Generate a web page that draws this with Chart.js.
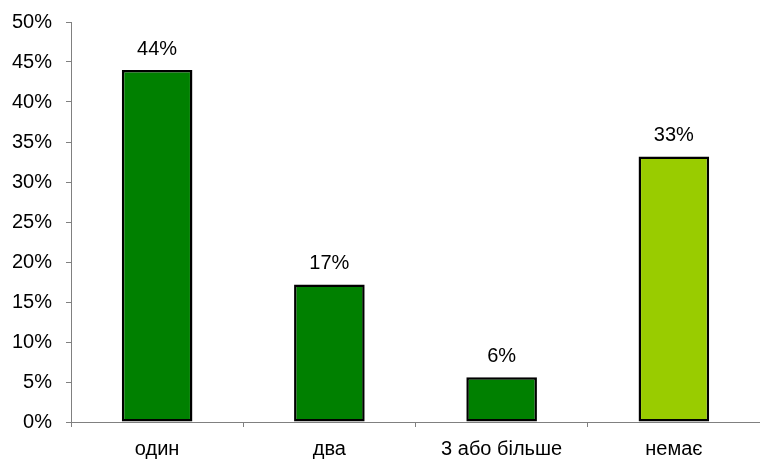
<!DOCTYPE html>
<html>
<head>
<meta charset="utf-8">
<script src="https://cdn.jsdelivr.net/npm/chart.js@4/dist/chart.umd.min.js"></script>
<style>
  html, body { margin: 0; padding: 0; background: #ffffff; }
  canvas { display: block; }
</style>
</head>
<body>
<canvas id="chart" width="760" height="460"></canvas>
<script>
// Number of children: share of respondents per answer
const categories = ['один', 'два', '3 або більше', 'немає'];
const shares = [44.0, 17.2, 5.6, 33.2];
const barColors = ['#008000', '#008000', '#008000', '#99CC00'];
const yTickStep = 5;
const yMax = 50;

const FONT = '"Liberation Sans", Arial, sans-serif';
const AXIS_GREY = '#808080';

// Percentage labels above each bar
const valueLabels = {
  id: 'valueLabels',
  afterDatasetsDraw(chart) {
    const ctx = chart.ctx;
    const meta = chart.getDatasetMeta(0);
    ctx.save();
    ctx.font = '20px ' + FONT;
    ctx.fillStyle = '#000000';
    ctx.textAlign = 'center';
    ctx.textBaseline = 'alphabetic';
    meta.data.forEach((bar, i) => {
      const v = chart.data.datasets[0].data[i];
      ctx.fillText(Math.round(v) + '%', bar.x, bar.y - 15);
    });
    ctx.restore();
  }
};

new Chart(document.getElementById('chart'), {
  type: 'bar',
  data: {
    labels: categories,
    datasets: [{
      data: shares,
      backgroundColor: barColors,
      borderColor: '#000000',
      borderWidth: 2.5,
      borderSkipped: false,
      categoryPercentage: 1.0,
      barPercentage: 0.41
    }]
  },
  options: {
    responsive: false,
    animation: false,
    devicePixelRatio: 1,
    layout: { padding: { top: 22, right: 0, bottom: 0, left: 0 } },
    plugins: {
      legend: { display: false },
      tooltip: { enabled: false }
    },
    scales: {
      x: {
        grid: {
          display: true,
          offset: true,
          drawOnChartArea: false,
          drawTicks: true,
          tickLength: 5,
          color: AXIS_GREY
        },
        border: { display: true, color: AXIS_GREY, width: 1 },
        ticks: {
          color: '#000000',
          font: { family: FONT, size: 20 },
          padding: 10,
          maxRotation: 0,
          autoSkip: false
        },
        afterFit(scale) {
          scale.height = 38;
          scale.paddingLeft = 0;
          scale.paddingRight = 0;
        }
      },
      y: {
        min: 0,
        max: yMax,
        grid: {
          display: true,
          drawOnChartArea: false,
          drawTicks: true,
          tickLength: 5,
          color: AXIS_GREY
        },
        border: { display: true, color: AXIS_GREY, width: 1 },
        ticks: {
          stepSize: yTickStep,
          color: '#000000',
          font: { family: FONT, size: 20 },
          padding: 14,
          callback: (v) => v + '%'
        },
        afterFit(scale) {
          scale.width = 71;
          scale.paddingTop = 0;
          scale.paddingBottom = 0;
        }
      }
    }
  },
  plugins: [valueLabels]
});
</script>
</body>
</html>
